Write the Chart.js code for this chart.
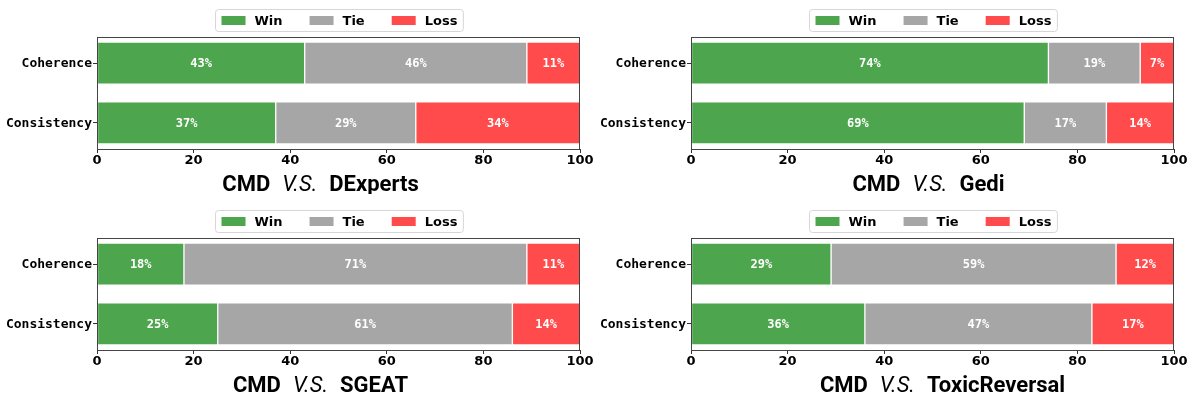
<!DOCTYPE html>
<html>
<head>
<meta charset="utf-8">
<script src="https://cdn.jsdelivr.net/npm/chart.js@4.4.1/dist/chart.umd.min.js"></script>
<style>
  html, body { margin: 0; padding: 0; background: #fff; }
  body { width: 1195px; height: 395px; position: relative; overflow: hidden; }
  .panel { position: absolute; width: 597px; height: 194px; }
</style>
</head>
<body>
<div class="panel" style="left:0;top:0"><canvas id="c1" width="597" height="194"></canvas></div>
<div class="panel" style="left:594px;top:0"><canvas id="c2" width="597" height="194"></canvas></div>
<div class="panel" style="left:0;top:201px"><canvas id="c3" width="597" height="194"></canvas></div>
<div class="panel" style="left:594px;top:201px"><canvas id="c4" width="597" height="194"></canvas></div>
<script>
// categories and series
const categories = ['Coherence', 'Consistency'];
const seriesNames = ['Win', 'Tie', 'Loss'];
const seriesColors = ['#4da64d', '#a6a6a6', '#ff4b4b'];
const xTicks = [0, 20, 40, 60, 80, 100];

// percentages per baseline, [Coherence, Consistency]
const dexpertsWin = [43, 37];
const dexpertsTie = [46, 29];
const dexpertsLoss = [11, 34];

const gediWin = [74, 69];
const gediTie = [19, 17];
const gediLoss = [7, 14];

const sgeatWin = [18, 25];
const sgeatTie = [71, 61];
const sgeatLoss = [11, 14];

const toxicWin = [29, 36];
const toxicTie = [59, 47];
const toxicLoss = [12, 17];

Chart.defaults.font.family = 'DejaVu Sans';
Chart.defaults.color = '#000';

// box round the plot area, like matplotlib spines
const framePlugin = {
  id: 'frame',
  afterDatasetsDraw(chart) {
    const a = chart.chartArea;
    const ctx = chart.ctx;
    ctx.save();
    ctx.strokeStyle = '#444';
    ctx.lineWidth = 1;
    ctx.strokeRect(Math.round(a.left) + 0.5, Math.round(a.top) + 0.5,
      Math.round(a.right - a.left) - 1, Math.round(a.bottom - a.top));
    ctx.restore();
  }
};

// percent labels inside each segment
const barLabelPlugin = {
  id: 'barLabels',
  afterDatasetsDraw(chart) {
    const ctx = chart.ctx;
    ctx.save();
    ctx.fillStyle = '#fff';
    ctx.font = 'bold 12px "DejaVu Sans Mono"';
    ctx.textAlign = 'center';
    ctx.textBaseline = 'middle';
    chart.data.datasets.forEach((ds, di) => {
      chart.getDatasetMeta(di).data.forEach((bar, i) => {
        const cx = (bar.x + bar.base) / 2;
        ctx.fillText(ds.values[i] + '%', cx, bar.y + 1);
      });
    });
    ctx.restore();
  }
};

// framed legend above the plot and the mixed-style xlabel below
const legendTitlePlugin = {
  id: 'legendTitle',
  afterDraw(chart, args, opts) {
    const ctx = chart.ctx;
    const a = chart.chartArea;
    const mid = (a.left + a.right) / 2;
    ctx.save();

    // legend
    ctx.font = 'bold 13px "DejaVu Sans"';
    const sw = 24, gapText = 9, colGap = 27, pad = 6;
    let total = 0;
    seriesNames.forEach((n, i) => {
      total += sw + gapText + ctx.measureText(n).width;
      if (i < seriesNames.length - 1) total += colGap;
    });
    const boxW = total + pad * 2;
    const boxX = Math.round(mid - boxW / 2) + 0.5;
    const boxY = 9.5, boxH = 22;
    ctx.beginPath();
    ctx.roundRect(boxX, boxY, boxW, boxH, 3);
    ctx.fillStyle = '#fff';
    ctx.fill();
    ctx.strokeStyle = '#d6d6d6';
    ctx.lineWidth = 1;
    ctx.stroke();
    let x = boxX + pad;
    const cy = boxY + boxH / 2;
    ctx.textBaseline = 'middle';
    ctx.textAlign = 'left';
    seriesNames.forEach((n, i) => {
      ctx.fillStyle = seriesColors[i];
      ctx.fillRect(x, cy - 4.5, sw, 9);
      x += sw + gapText;
      ctx.fillStyle = '#000';
      ctx.fillText(n, x, cy + 1);
      x += ctx.measureText(n).width + colGap;
    });

    // xlabel: CMD (bold) V.S. (italic) name (bold)
    const parts = [
      { t: 'CMD', f: 'bold 22px Roboto' },
      { t: 'V.S.', f: 'italic 22px Roboto' },
      { t: opts.name, f: 'bold 22px Roboto' }
    ];
    const gap = 12;
    let tw = 0;
    parts.forEach((p, i) => {
      ctx.font = p.f;
      p.w = ctx.measureText(p.t).width;
      tw += p.w + (i ? gap : 0);
    });
    let tx = mid + opts.shift - tw / 2;
    ctx.fillStyle = '#000';
    ctx.textBaseline = 'alphabetic';
    parts.forEach(p => {
      ctx.font = p.f;
      ctx.fillText(p.t, tx, 191);
      tx += p.w + gap;
    });
    ctx.restore();
  }
};

function makeChart(id, name, shift, win, tie, loss) {
  const series = [win, tie, loss];
  // floating segments: each starts where the previous one ends
  const datasets = seriesNames.map((n, s) => ({
    label: n,
    values: series[s],
    data: categories.map((c, i) => {
      let start = 0;
      for (let k = 0; k < s; k++) start += series[k][i];
      return { x: [start, start + series[s][i]], y: i };
    }),
    backgroundColor: seriesColors[s],
    borderColor: '#fff',
    borderWidth: 1,
    borderSkipped: false,
    grouped: false,
    barThickness: 42
  }));

  return new Chart(document.getElementById(id), {
    type: 'bar',
    data: { datasets },
    plugins: [framePlugin, barLabelPlugin, legendTitlePlugin],
    options: {
      indexAxis: 'y',
      responsive: false,
      animation: false,
      devicePixelRatio: 1,
      layout: { padding: { top: 37, left: 0, right: 17, bottom: 0 } },
      plugins: {
        legend: { display: false },
        tooltip: { enabled: false },
        legendTitle: { name, shift }
      },
      scales: {
        x: {
          type: 'linear',
          min: 0,
          max: 100,
          afterBuildTicks: scale => { scale.ticks = xTicks.map(v => ({ value: v })); },
          afterFit: scale => { scale.height = 45; },
          border: { display: false },
          grid: { drawOnChartArea: false, drawTicks: true, tickLength: 4, color: '#333' },
          ticks: { font: { weight: 'bold', size: 13 }, padding: 0, maxRotation: 0 }
        },
        y: {
          type: 'linear',
          reverse: true,
          offset: false,
          min: -0.435,
          max: 1.435,
          afterBuildTicks: scale => { scale.ticks = categories.map((c, i) => ({ value: i })); },
          afterFit: scale => { scale.width = 97; },
          border: { display: false },
          grid: { offset: false, drawOnChartArea: false, drawTicks: true, tickLength: 4, color: '#333' },
          ticks: {
            font: { family: 'DejaVu Sans Mono', weight: 'bold', size: 13 },
            padding: 1,
            labelOffset: 1,
            callback: v => categories[v]
          }
        }
      }
    }
  });
}

makeChart('c1', 'DExperts', -18, dexpertsWin, dexpertsTie, dexpertsLoss);
makeChart('c2', 'Gedi', -4, gediWin, gediTie, gediLoss);
makeChart('c3', 'SGEAT', -18, sgeatWin, sgeatTie, sgeatLoss);
makeChart('c4', 'ToxicReversal', 10, toxicWin, toxicTie, toxicLoss);
</script>
</body>
</html>
